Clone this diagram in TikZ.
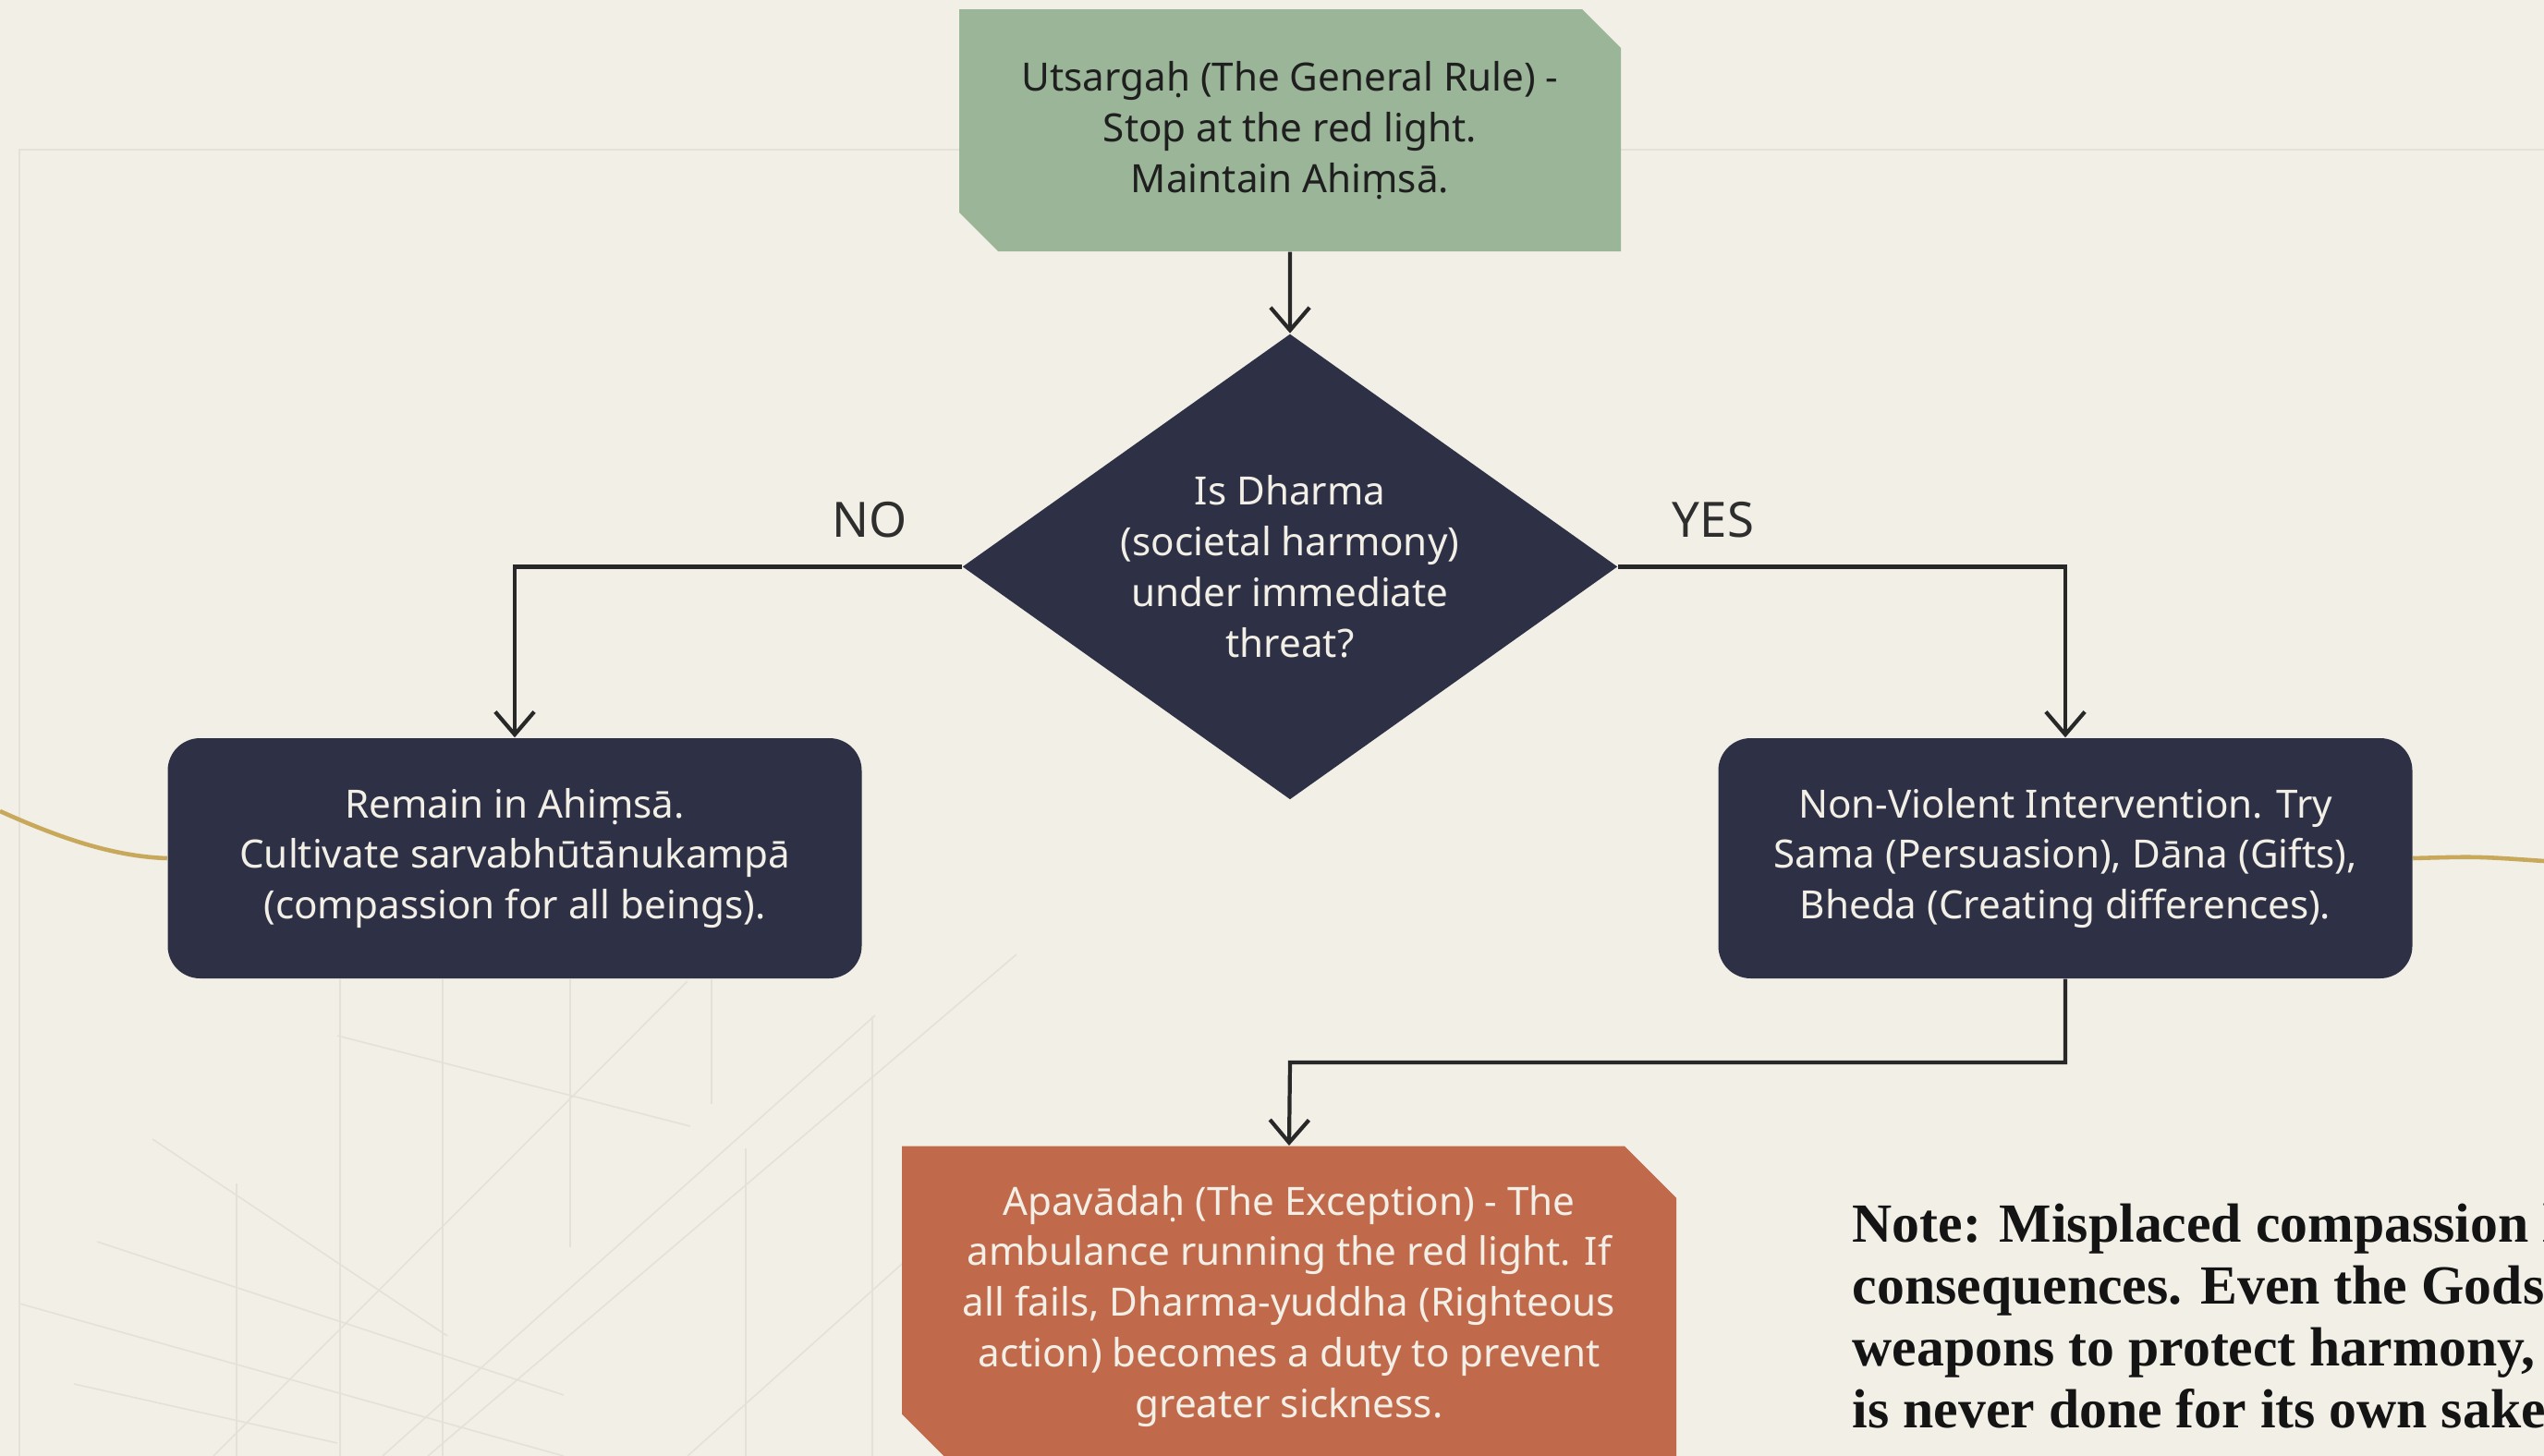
\documentclass[tikz,border=0pt]{standalone}
\usepackage{fontspec}
\setmainfont{Noto Sans}
\newfontfamily\notefont{Liberation Serif}
\usetikzlibrary{shapes.geometric,shapes.misc,positioning,arrows.meta}

\definecolor{paper}{HTML}{F2EFE6}
\definecolor{sage}{HTML}{9AB597}
\definecolor{ink}{HTML}{2E3046}
\definecolor{clay}{HTML}{C1694B}
\definecolor{gold}{HTML}{C8A85A}
\definecolor{faint}{HTML}{E5E1D7}
\definecolor{wire}{HTML}{282828}

\tikzset{
	boxtext/.style={font=\fontsize{12}{15.6}\selectfont, align=center, inner sep=0pt},
	rulebox/.style={boxtext, chamfered rectangle, chamfered rectangle corners={north east,south west},
		chamfered rectangle sep=#1, fill=sage, text=black!88},
	darkbox/.style={boxtext, rectangle, rounded corners=0.35cm, fill=ink, text=paper,
		minimum width=7.51cm, minimum height=2.60cm},
	flow/.style={draw=wire, line width=1.2pt, -{Straight Barb[length=7pt,width=12pt]}},
	lbl/.style={font=\fontsize{15}{18}\selectfont, text=black!82, inner sep=0pt},
	sketch/.style={draw=faint, line width=0.45pt},
}

\begin{document}
\begin{tikzpicture}

	\useasboundingbox (0,0) rectangle (27.53,-15.76);
	\fill[paper] (0,0) rectangle (27.53,-15.76);

	% faint background sketch
	\draw[sketch, line width=0.7pt] (0.21,-15.76) -- (0.21,-1.62) -- (27.53,-1.62);
	\foreach \xa/\ya/\xb/\yb in {3.68/-10.6/3.68/-15.76, 4.79/-10.6/4.79/-15.76, 6.17/-10.6/6.17/-13.5,
		7.7/-10.6/7.7/-11.95, 9.44/-11.0/9.44/-15.76, 2.56/-12.81/2.56/-15.76, 8.07/-12.43/8.07/-15.76,
		2.31/-15.76/7.44/-10.62, 4.14/-15.76/9.47/-10.99, 4.63/-15.76/11.0/-10.33, 7.44/-15.76/11.0/-12.57,
		3.65/-11.21/7.47/-12.19, 1.65/-12.33/4.84/-14.46, 1.05/-13.44/6.1/-15.1, 0.21/-14.11/6.1/-15.76,
		0.8/-14.98/3.65/-15.62}{
		\draw[sketch] (\xa,\ya) -- (\xb,\yb);
	}

	% the flow
	\node[rulebox=0.21cm, minimum width=7.16cm, minimum height=2.62cm] (rule) at (13.96,-1.41)
		{Utsargaḥ (The General Rule) -\\ Stop at the red light.\\ Maintain Ahiṃsā.};
	\node[boxtext, diamond, aspect=1.4, fill=ink, text=paper, minimum width=7.09cm, minimum height=5.04cm,
		below=0.88cm of rule] (threat)
		{Is Dharma\\ (societal harmony)\\ under immediate\\ threat?};
	\node[darkbox] (calm) at (5.57,-9.29)
		{Remain in Ahiṃsā.\\ Cultivate sarvabhūtānukampā\\ (compassion for all beings).};
	\node[darkbox] (act) at (22.35,-9.29)
		{Non-Violent Intervention. Try\\ Sama (Persuasion), Dāna (Gifts),\\ Bheda (Creating differences).};
	\node[rulebox=0.28cm, fill=clay, text=paper, minimum width=8.38cm, minimum height=3.46cm, anchor=north] (excp) at (13.95,-12.40)
		{Apavādaḥ (The Exception) - The\\ ambulance running the red light. If\\ all fails, Dharma-yuddha (Righteous\\ action) becomes a duty to prevent\\ greater sickness.};

	\node[lbl] (no) at (9.41,-5.63) {NO};
	\node[lbl] (yes) at (18.54,-5.63) {YES};

	\draw[flow] (rule) -- (threat);
	\draw[flow] (threat.west) -| (calm.north);
	\draw[flow] (threat.east) -| (act.north);
	\coordinate (join) at (13.96,-11.50);
	\draw[flow] (act.south) |- (join) -- (excp.north);

	% gold threads
	\draw[gold, line width=1.3pt] (0,-8.78) .. controls (0.6,-9.05) and (1.2,-9.27) .. (calm.west);
	\draw[gold, line width=1.3pt] (act.east) .. controls (26.8,-9.27) .. (27.53,-9.32);

	\node[anchor=base west, align=left, inner sep=0pt, text=black!92,
		font=\notefont\bfseries\fontsize{17}{19}\selectfont] (note) at (20.04,-15.45)
		{Note: Misplaced compassion l\\ consequences. Even the Gods\\ weapons to protect harmony,\\ is never done for its own sake};

\end{tikzpicture}
\end{document}
